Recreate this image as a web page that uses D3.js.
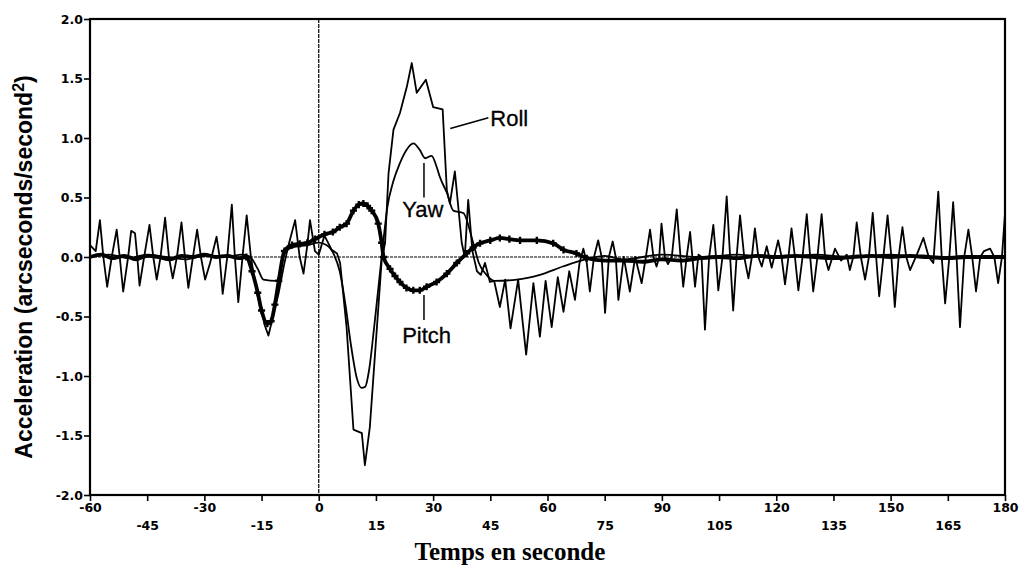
<!DOCTYPE html>
<html>
<head>
<meta charset="utf-8">
<script src="https://cdn.jsdelivr.net/npm/d3@7"></script>
<style>
	body { margin: 0; background: #fff; }
	svg { display: block; }
	.tick text { font-family: 'DejaVu Sans', sans-serif; font-weight: bold; font-size: 12.5px; fill: #000; }
	.label { font-family: 'Liberation Sans', Arial, sans-serif; font-size: 22px; fill: #000; stroke: #000; stroke-width: 0.3px; }
</style>
</head>
<body>
<div id="chart"></div>
<script>
// Time axis (seconds) and acceleration axis ticks
const xTicks = [-60, -45, -30, -15, 0, 15, 30, 45, 60, 75, 90, 105, 120, 135, 150, 165, 180];
const yTicks = [-2, -1.5, -1, -0.5, 0, 0.5, 1, 1.5, 2];

// Roll: [time, acceleration]
const rollData = [
	[-60, 0.1], [-58.5, 0.05], [-57.4, 0.31], [-56.5, 0.0], [-55.5, -0.25], [-54.3, 0.0], [-53, 0.23], [-52.2, 0.0],
	[-51.3, -0.29], [-50, 0.0], [-49.2, 0.22], [-48.2, 0.2], [-47.6, 0.0], [-47, -0.24], [-45.8, 0.0], [-44.4, 0.27],
	[-43.4, 0.0], [-42.5, -0.19], [-41.5, 0.0], [-40.3, 0.33], [-39.3, 0.0], [-38.3, -0.18], [-37.2, 0.0], [-36, 0.29],
	[-35.1, 0.0], [-34.2, -0.26], [-33, 0.0], [-31.9, 0.23], [-30.9, 0.0], [-29.8, -0.19], [-28.5, -0.05], [-26.8, 0.17],
	[-26, 0.0], [-25.2, -0.31], [-24, 0.0], [-22.8, 0.44], [-22, 0.0], [-21.1, -0.38], [-20, 0.0], [-18.9, 0.35],
	[-17.8, 0.0], [-16.7, -0.22], [-15.5, -0.4], [-14.1, -0.58], [-13.2, -0.66], [-12, -0.5], [-10.5, -0.3], [-9, -0.05],
	[-8, 0.09], [-6.2, 0.31], [-5, 0.0], [-4, -0.14], [-3, 0.1], [-2.3, 0.31], [-1, 0.05], [0, 0.02],
	[1.5, 0.18], [3.4, 0.06], [4.8, 0.03], [5.6, -0.05], [7.3, -0.59], [9.1, -1.45], [11.3, -1.48], [12.1, -1.75],
	[13.4, -1.43], [16.5, -0.03], [17.4, 0.12], [18.3, 0.7], [19.6, 1.07], [21.3, 1.21], [23.1, 1.43], [24.4, 1.63],
	[25.7, 1.38], [28.1, 1.49], [30, 1.26], [32.5, 1.24], [33.6, 0.56], [34.4, 0.45], [35.7, 0.72], [36.6, 0.42],
	[37.5, 0.12], [38.3, 0.0], [39.2, 0.48], [40.3, 0.05], [41.5, -0.12], [42.5, -0.15], [43.6, -0.05], [44.9, -0.21],
	[46, -0.2], [47.5, -0.42], [48.9, -0.19], [50.3, -0.6], [52.3, -0.19], [54.4, -0.82], [56.3, -0.22], [58, -0.67],
	[59.5, -0.2], [61.1, -0.59], [62.7, -0.17], [64.2, -0.46], [65.7, -0.12], [67.2, -0.36], [68.4, -0.05], [69.4, 0.07],
	[70.3, -0.05], [71.1, -0.29], [72.2, 0.0], [73.3, 0.14], [74.2, 0.0], [75.1, -0.47], [76.1, 0.0], [77.1, 0.13],
	[77.9, 0.0], [78.6, -0.36], [80, 0.0], [81.6, -0.29], [83, 0.0], [84.7, -0.22], [85.8, 0.0], [86.9, 0.23],
	[87.8, 0.0], [88.6, -0.08], [89.3, 0.0], [89.9, 0.28], [90.8, 0.0], [91.6, -0.06], [92.6, 0.0], [93.9, 0.4],
	[94.9, 0.0], [95.6, -0.25], [96.5, 0.0], [97.4, 0.21], [98, 0.0], [98.7, -0.25], [99.6, 0.02], [100.4, 0.0],
	[101.3, -0.61], [102.4, 0.0], [103.5, 0.27], [104.2, 0.0], [104.8, -0.28], [105.9, 0.0], [107, 0.51], [107.9, 0.0],
	[108.7, -0.45], [109.6, 0.0], [110.5, 0.35], [111.6, 0.0], [112.7, -0.18], [113.6, 0.0], [114.4, 0.24], [115.3, 0.0],
	[116.2, -0.08], [117.5, 0.09], [118.8, -0.09], [120.5, 0.14], [121.4, 0.0], [122.3, -0.23], [123.2, 0.0], [124, 0.24],
	[124.9, 0.0], [125.8, -0.28], [126.9, 0.0], [128, 0.36], [128.9, 0.0], [129.7, -0.29], [130.8, 0.0], [131.9, 0.36],
	[132.8, 0.0], [133.7, -0.11], [135.4, 0.07], [137, -0.03], [138.5, 0.02], [139.3, -0.11], [140.2, 0.0], [141.1, 0.29],
	[142.2, 0.0], [143.3, -0.19], [144.3, 0.0], [145.3, 0.37], [146.2, 0.0], [147, -0.33], [148.1, 0.0], [149.2, 0.35],
	[150.2, 0.0], [151.1, -0.42], [152.1, 0.0], [153.1, 0.25], [154.1, 0.0], [155.1, -0.11], [157, 0.03], [158.6, 0.16],
	[160, 0.0], [161.2, -0.05], [162.5, 0.55], [163.4, 0.0], [164.3, -0.39], [165.4, 0.0], [166.4, 0.46], [167.3, 0.0],
	[168.2, -0.59], [169.3, 0.0], [170.4, 0.23], [171.4, 0.0], [172.4, -0.29], [173.5, 0.0], [174.5, 0.05], [176.1, 0.07],
	[177.2, 0.0], [178.2, -0.22], [179.2, 0.0], [180, 0.37]
];

// Yaw
const yawData = [
	[-60, 0.0], [-55, 0.02], [-50, -0.01], [-45, 0.02], [-40, 0.0], [-35, -0.02], [-30, 0.01], [-25, 0.0],
	[-20, 0.02], [-18, 0.0], [-16, -0.1], [-14.5, -0.19], [-11, -0.2], [-9, 0.03], [-7, 0.08], [-3, 0.1],
	[0, 0.12], [2, 0.1], [4, 0.02], [5.5, -0.12], [7, -0.4], [8.5, -0.75], [10, -1.02], [11.2, -1.1],
	[12.2, -1.09], [13.2, -0.95], [14.5, -0.6], [16, -0.15], [17, 0.15], [18, 0.42], [19.5, 0.63], [21.3, 0.79],
	[23, 0.9], [24.8, 0.955], [26.5, 0.9], [27.9, 0.83], [29.6, 0.85], [31, 0.75], [31.8, 0.67], [33.6, 0.54],
	[35.3, 0.39], [37.9, 0.37], [40.5, 0.12], [42, -0.05], [44, -0.15], [46, -0.2], [52, -0.19], [58, -0.15],
	[64, -0.08], [70, -0.02], [75, 0.01], [80, -0.02], [90, 0.02], [100, 0.0], [110, 0.02], [120, -0.01],
	[130, 0.02], [140, 0.0], [150, 0.02], [160, -0.01], [170, 0.01], [180, 0.0]
];

// Pitch
const pitchData = [
	[-60, 0.0], [-57, 0.02], [-54, -0.01], [-51, 0.01], [-48, -0.02], [-45, 0.01], [-42, 0.0], [-39, -0.02],
	[-36, 0.01], [-33, 0.0], [-30, 0.02], [-27, 0.0], [-24, 0.01], [-21, -0.01], [-19, 0.0], [-17.5, -0.12],
	[-16, -0.3], [-15, -0.45], [-13.5, -0.56], [-12.5, -0.54], [-11.5, -0.4], [-10.5, -0.2], [-9, 0.05], [-7, 0.1],
	[-5, 0.11], [-3, 0.12], [-1, 0.15], [1.5, 0.19], [3.7, 0.21], [5.5, 0.25], [7.3, 0.28], [9.1, 0.39],
	[10.5, 0.44], [11.7, 0.45], [12.8, 0.43], [13.9, 0.39], [15.6, 0.28], [16.5, 0.12], [17, 0.0], [18.7, -0.1],
	[20, -0.16], [21.3, -0.21], [23, -0.26], [24.8, -0.28], [26.5, -0.28], [28.3, -0.25], [30.9, -0.21], [33.6, -0.14],
	[36.2, -0.05], [38.8, 0.03], [40.5, 0.08], [42.3, 0.115], [45, 0.14], [47.5, 0.16], [50, 0.15], [52.8, 0.14],
	[57.2, 0.14], [61.5, 0.115], [64.2, 0.06], [67.6, 0.03], [70.3, -0.01], [75, -0.03], [80, -0.03], [85, -0.04],
	[90, -0.02], [95, -0.03], [100, -0.01], [105, 0.0], [110, -0.01], [115, 0.01], [120, 0.0], [125, 0.01],
	[130, 0.0], [135, -0.01], [140, 0.0], [145, 0.01], [150, 0.0], [155, 0.01], [160, 0.0], [165, -0.01],
	[170, 0.0], [175, 0.0], [180, 0.0]
];

const width = 1022;
const height = 576;
const margin = { top: 19, right: 17, bottom: 81, left: 90 };

const svg = d3.select('#chart').append('svg').attr('width', width).attr('height', height);

const x = d3.scaleLinear().domain([-60, 180]).range([margin.left, width - margin.right]);
const y = d3.scaleLinear().domain([-2, 2]).range([height - margin.bottom, margin.top]);

// Zero reference lines (thin)
svg.append('line')
	.attr('x1', x(-60)).attr('x2', x(180))
	.attr('y1', y(0)).attr('y2', y(0))
	.attr('stroke', '#000').attr('stroke-width', 1).attr('stroke-dasharray', '3,1');
svg.append('line')
	.attr('x1', x(0)).attr('x2', x(0))
	.attr('y1', y(2)).attr('y2', y(-2))
	.attr('stroke', '#000').attr('stroke-width', 1.2).attr('stroke-dasharray', '4,1');

// Series
const line = d3.line().x((d) => x(d[0])).y((d) => y(d[1]));

svg.append('path').datum(pitchData)
	.attr('d', line.curve(d3.curveMonotoneX))
	.attr('fill', 'none').attr('stroke', '#000').attr('stroke-width', 3.8).attr('stroke-linejoin', 'round');

// Pitch tick markers
svg.append('g').selectAll('path')
	.data(pitchData.filter((d) => d[0] > -20 && d[0] < 72))
	.enter().append('path')
	.attr('d', d3.symbol().type(d3.symbolCross).size(28))
	.attr('transform', (d) => `translate(${x(d[0])},${y(d[1])})`)
	.attr('fill', '#000');

svg.append('path').datum(yawData)
	.attr('d', d3.line().x((d) => x(d[0])).y((d) => y(d[1])).curve(d3.curveMonotoneX))
	.attr('fill', 'none').attr('stroke', '#000').attr('stroke-width', 1.8);

svg.append('path').datum(rollData)
	.attr('d', d3.line().x((d) => x(d[0])).y((d) => y(d[1])))
	.attr('fill', 'none').attr('stroke', '#000').attr('stroke-width', 1.8).attr('stroke-linejoin', 'round');

// Axes
const yAxis = d3.axisLeft(y).tickValues(yTicks).tickSize(6).tickPadding(1).tickFormat(d3.format('.1f'));
svg.append('g').attr('transform', `translate(${x(-60)},0)`).call(yAxis)
	.call((g) => g.selectAll('.tick text').text((d) => d3.format('.1f')(d).replace('−', '-')));

const xAxis = d3.axisBottom(x).tickValues(xTicks).tickSize(6).tickPadding(3).tickFormat((d) => String(d));
const gx = svg.append('g').attr('transform', `translate(0,${y(-2)})`).call(xAxis);
gx.selectAll('.tick text').attr('dy', (d) => (Math.abs(d) % 30 === 15 ? '2.05em' : '0.65em'));

svg.selectAll('.domain').remove();
svg.selectAll('.tick line').attr('stroke', '#000').attr('stroke-width', 1.6);

// Frame
svg.append('rect')
	.attr('x', x(-60)).attr('y', y(2))
	.attr('width', x(180) - x(-60)).attr('height', y(-2) - y(2))
	.attr('fill', 'none').attr('stroke', '#000').attr('stroke-width', 2.2);

// Series labels with leader lines
const labels = [
	{ text: 'Roll', lx: [34.5, 44.5], ly: [1.08, 1.17], tx: 45, ty: 1.1, anchor: 'start' },
	{ text: 'Yaw', lx: [27.6, 27.6], ly: [0.79, 0.5], tx: 27.3, ty: 0.34, anchor: 'middle' },
	{ text: 'Pitch', lx: [27.6, 27.6], ly: [-0.32, -0.53], tx: 28.3, ty: -0.72, anchor: 'middle' },
];
labels.forEach((l) => {
	svg.append('line')
		.attr('x1', x(l.lx[0])).attr('x2', x(l.lx[1]))
		.attr('y1', y(l.ly[0])).attr('y2', y(l.ly[1]))
		.attr('stroke', '#000').attr('stroke-width', 1.5);
	svg.append('text').attr('class', 'label')
		.attr('x', x(l.tx)).attr('y', y(l.ty))
		.attr('text-anchor', l.anchor)
		.text(l.text);
});

// Axis titles
const yTitle = svg.append('text')
	.attr('transform', `translate(32,${(y(2) + y(-2)) / 2 + 10}) rotate(-90)`)
	.attr('text-anchor', 'middle')
	.style('font-family', "'Liberation Sans', Arial, sans-serif")
	.style('font-weight', 'bold')
	.style('font-size', '23px');
yTitle.append('tspan').text('Acceleration (arcseconds/second');
yTitle.append('tspan').attr('dy', -8).style('font-size', '16px').text('2');
yTitle.append('tspan').attr('dy', 8).text(')');

svg.append('text')
	.attr('x', 510)
	.attr('y', 560)
	.attr('text-anchor', 'middle')
	.style('font-family', "'Liberation Serif', 'Times New Roman', serif")
	.style('font-weight', 'bold')
	.style('font-size', '25px')
	.text('Temps en seconde');
</script>
</body>
</html>
